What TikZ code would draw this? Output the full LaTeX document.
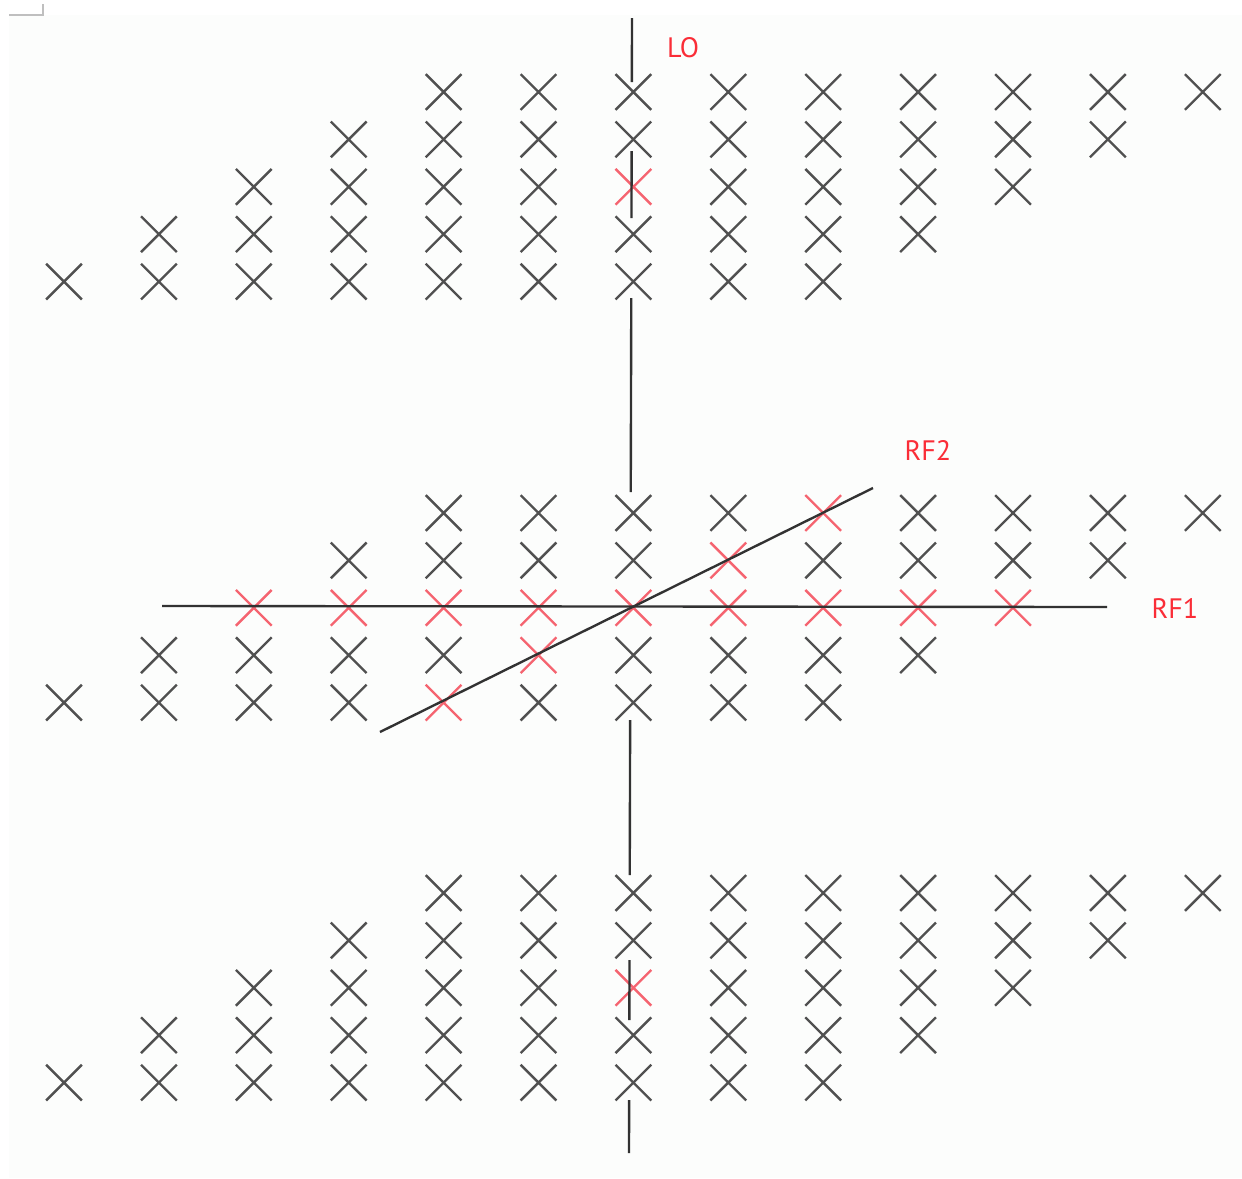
\documentclass[tikz,border=0pt]{standalone}
\usepackage{fontspec}
\newfontfamily\labelfont{PT Sans}
\usepackage{tikz}
\usetikzlibrary{shapes.misc}
\definecolor{markgray}{RGB}{80,80,80}
\definecolor{markred}{RGB}{245,100,112}
\definecolor{labelred}{RGB}{250,45,55}
\definecolor{wiregray}{RGB}{50,50,50}
\definecolor{paper}{RGB}{252,253,252}

\tikzset{
  xmark/.style={cross out, draw=markgray, line width=1.35pt, minimum size=19pt, inner sep=0pt},
  wire/.style={draw=wiregray, line width=1.35pt},
  tag/.style={font=\labelfont\fontsize{16}{19}\selectfont, text=labelred, inner sep=0pt},
}

\begin{document}
\begin{tikzpicture}[x=0.02cm, y=-0.02cm]
    \useasboundingbox (0,0) rectangle (1242,1178);
    % paper and corner tick
    \fill[paper] (9,15) rectangle (1242,1178);
    \draw[black!25, line width=1.2pt] (9,15) -- (43,15) -- (43,4);
    % marks: three blocks, five rows each, rows shifted by one column
    \foreach \b/\base in {0/92, 1/513, 2/893}{
      \foreach \r in {0,...,4}{
        \foreach \k in {0,...,8}{
          \pgfmathtruncatemacro\col{4-\r+\k}
          \pgfmathtruncatemacro\hot{((\r==2)&&((\b==1)||(\col==6)))||((\b==1)&&(\col+\r==8))}
          \ifnum\hot=1 \def\mc{markred}\else\def\mc{markgray}\fi
          \node[xmark, draw=\mc] (m\b-\r-\col) at ({64+94.9*\col}, {\base+47.4*\r}) {};
        }
      }
    }
    % LO line, broken in pieces
    \foreach \i/\ya/\yb in {0/18/82, 1/151/218, 2/298/492, 3/720/875,
                            4/960/1020, 5/1100/1153}{
      \coordinate (lo\i-a) at ({632.05-0.00264*\ya}, \ya);
      \coordinate (lo\i-b) at ({632.05-0.00264*\yb}, \yb);
      \draw[wire] (lo\i-a) -- (lo\i-b);
    }
    % RF1 and RF2 lines
    \coordinate (rf1-w) at (162,606);
    \coordinate (rf1-e) at (1107,607);
    \draw[wire] (rf1-w) -- (rf1-e);
    \coordinate (rf2-sw) at (380,732);
    \coordinate (rf2-ne) at (873,488);
    \draw[wire] (rf2-sw) -- (rf2-ne);
    % labels
    \node[tag] (lo)  at (683,48)   {LO};
    \node[tag] (rf2) at (928,450)  {RF2};
    \node[tag] (rf1) at (1175,608) {RF1};
\end{tikzpicture}
\end{document}
